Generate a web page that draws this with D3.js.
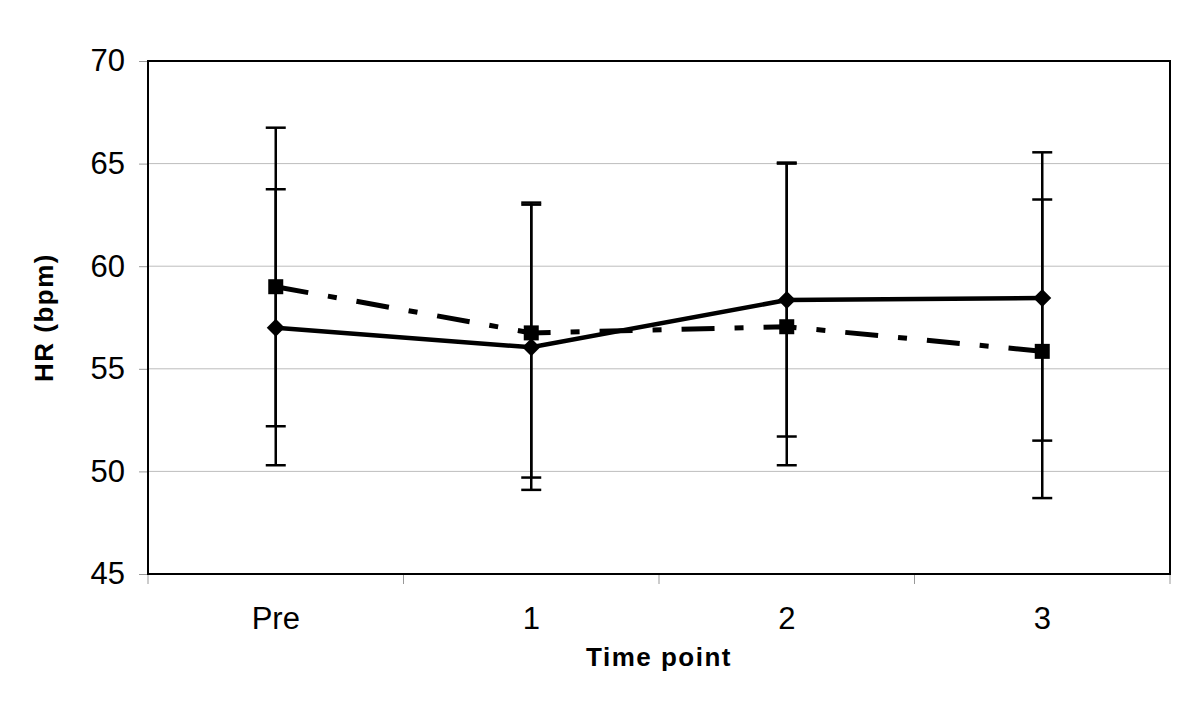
<!DOCTYPE html>
<html lang="en">
<head>
    <meta charset="UTF-8">
    <title>HR by time point</title>
    <script src="https://d3js.org/d3.v7.min.js"></script>
</head>
<style>
    body {
        margin: 0;
        background: #fff;
    }
    svg {
        font-family: Arial, "Liberation Sans", sans-serif;
    }
</style>
<body>
<div class="chart"></div>
<script>
  /** DATA */
  var timePoints = ['Pre', '1', '2', '3'];
  var yTicks = [45, 50, 55, 60, 65, 70];

  // solid line, diamond markers
  var seriesA = [57.0, 56.05, 58.35, 58.45];
  var seriesALow = [50.3, 49.1, 51.7, 51.5];
  var seriesAHigh = [63.75, 63.0, 65.0, 65.55];

  // dash-dot line, square markers
  var seriesB = [59.0, 56.75, 57.05, 55.85];
  var seriesBLow = [52.2, 49.7, 50.3, 48.7];
  var seriesBHigh = [66.75, 63.1, 65.05, 63.25];

  /** LAYOUT */
  var width = 1200, height = 706;
  var plotLeft = 148, plotRight = 1170, plotTop = 61, plotBottom = 574;

  var svg = d3.select('.chart').append('svg')
    .attr('width', width)
    .attr('height', height);

  var x = d3.scaleBand().domain(timePoints).range([plotLeft, plotRight]);
  var y = d3.scaleLinear().domain([45, 70]).range([plotBottom, plotTop]);
  var cx = function (d) { return x(d) + x.bandwidth() / 2; };

  /** gridlines */
  svg.append('g')
    .selectAll('line')
    .data(yTicks.slice(1, -1))
    .enter().append('line')
    .attr('x1', plotLeft).attr('x2', plotRight)
    .attr('y1', function (d) { return y(d); })
    .attr('y2', function (d) { return y(d); })
    .attr('stroke', '#bdbdbd')
    .attr('stroke-width', 1);

  /** y axis */
  var yAxis = svg.append('g')
    .attr('transform', 'translate(' + plotLeft + ',0)')
    .call(d3.axisLeft(y).tickValues(yTicks).tickSize(9).tickPadding(14));
  yAxis.select('.domain').remove();
  yAxis.selectAll('.tick line').attr('stroke', '#999');
  yAxis.selectAll('.tick text')
    .attr('font-size', 31)
    .attr('font-family', 'Arial, "Liberation Sans", sans-serif')
    .attr('fill', '#000');

  /** x axis: ticks at category boundaries */
  var xAxis = svg.append('g')
    .attr('transform', 'translate(0,' + plotBottom + ')')
    .call(d3.axisBottom(x).tickSize(0).tickPadding(33));
  xAxis.select('.domain').remove();
  xAxis.selectAll('.tick text')
    .attr('font-size', 31)
    .attr('font-family', 'Arial, "Liberation Sans", sans-serif')
    .attr('fill', '#000');
  var boundaries = timePoints.map(function (d) { return x(d); }).concat([plotRight]);
  xAxis.selectAll('.boundary')
    .data(boundaries)
    .enter().append('line')
    .attr('x1', function (d) { return d; })
    .attr('x2', function (d) { return d; })
    .attr('y1', 0).attr('y2', 10)
    .attr('stroke', '#999');

  /** plot frame */
  svg.append('rect')
    .attr('x', plotLeft).attr('y', plotTop)
    .attr('width', plotRight - plotLeft)
    .attr('height', plotBottom - plotTop)
    .attr('fill', 'none')
    .attr('stroke', '#000')
    .attr('stroke-width', 2);

  /** error bars */
  function drawErrorBars(low, high) {
    var g = svg.append('g').attr('stroke', '#000').attr('stroke-width', 2.5);
    timePoints.forEach(function (t, i) {
      g.append('line')
        .attr('x1', cx(t)).attr('x2', cx(t))
        .attr('y1', y(low[i])).attr('y2', y(high[i]));
      [low[i], high[i]].forEach(function (v) {
        g.append('line')
          .attr('x1', cx(t) - 10).attr('x2', cx(t) + 10)
          .attr('y1', y(v)).attr('y2', y(v));
      });
    });
  }
  drawErrorBars(seriesALow, seriesAHigh);
  drawErrorBars(seriesBLow, seriesBHigh);

  /** lines */
  var line = d3.line()
    .x(function (d, i) { return cx(timePoints[i]); })
    .y(function (d) { return y(d); });

  svg.append('path')
    .datum(seriesB)
    .attr('d', line)
    .attr('fill', 'none')
    .attr('stroke', '#000')
    .attr('stroke-width', 5)
    .attr('stroke-dasharray', '33,20,9,20');

  svg.append('path')
    .datum(seriesA)
    .attr('d', line)
    .attr('fill', 'none')
    .attr('stroke', '#000')
    .attr('stroke-width', 4.5);

  /** markers */
  svg.append('g')
    .selectAll('rect')
    .data(seriesB)
    .enter().append('rect')
    .attr('x', function (d, i) { return cx(timePoints[i]) - 7.5; })
    .attr('y', function (d) { return y(d) - 7.5; })
    .attr('width', 15).attr('height', 15)
    .attr('fill', '#000');

  svg.append('g')
    .selectAll('path')
    .data(seriesA)
    .enter().append('path')
    .attr('transform', function (d, i) {
      return 'translate(' + cx(timePoints[i]) + ',' + y(d) + ')';
    })
    .attr('d', 'M0,-9L9,0L0,9L-9,0Z')
    .attr('fill', '#000');

  /** axis titles */
  svg.append('text')
    .attr('x', (plotLeft + plotRight) / 2)
    .attr('y', 666)
    .attr('text-anchor', 'middle')
    .attr('font-size', 26)
    .attr('font-weight', 'bold')
    .attr('letter-spacing', 1.5)
    .text('Time point');

  svg.append('text')
    .attr('transform', 'translate(53,' + (plotTop + plotBottom) / 2 + ') rotate(-90)')
    .attr('text-anchor', 'middle')
    .attr('font-size', 26)
    .attr('font-weight', 'bold')
    .attr('letter-spacing', 1.5)
    .text('HR (bpm)');
</script>
</body>
</html>
